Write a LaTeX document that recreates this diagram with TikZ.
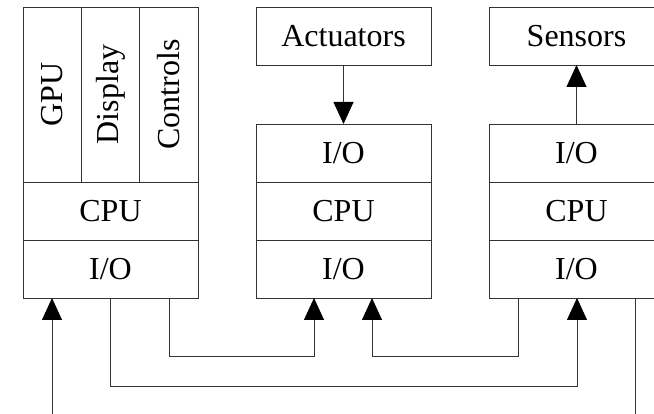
\documentclass[tikz,border=0pt]{standalone}
\usepackage{fontspec}
\setmainfont{Liberation Serif}
\usetikzlibrary{arrows.meta}
\begin{document}
\begin{tikzpicture}[x=1pt,y=-1pt,
 box/.style={draw=black!80, line width=0.9pt, inner sep=0pt, outer sep=0pt, font=\fontsize{32}{36}\selectfont},
 wide/.style={box, minimum width=175pt, minimum height=58pt},
 col/.style={box, minimum width=58.33pt, minimum height=175pt},
 conn/.style={draw=black!80, line width=0.9pt},
 arr/.style={conn, -{Triangle[length=22pt,width=20pt,color=black]}}]
\useasboundingbox (0,0) rectangle (654,414);
\clip (0,0) rectangle (654,414);
% left block
\node[col] (gpu) at (52.17,94.5) {\rotatebox{90}{GPU}};
\node[col] (disp) at (110.5,94.5) {\rotatebox{90}{Display}};
\node[col] (ctrl) at (168.83,94.5) {\rotatebox{90}{Controls}};
\node[wide] (cpu1) at (110.5,211) {CPU};
\node[wide] (io1) at (110.5,269) {I/O};
% middle block
\node[wide] (act) at (343.5,36) {Actuators};
\node[wide] (io2a) at (343.5,153) {I/O};
\node[wide] (cpu2) at (343.5,211) {CPU};
\node[wide] (io2b) at (343.5,269) {I/O};
% right block
\node[wide] (sens) at (576.5,36) {Sensors};
\node[wide] (io3a) at (576.5,153) {I/O};
\node[wide] (cpu3) at (576.5,211) {CPU};
\node[wide] (io3b) at (576.5,269) {I/O};
% top arrows
\draw[arr] (act) -- (io2a);
\draw[arr] (io3a) -- (sens);
% bottom connectors
\coordinate (inL) at (52,414);
\coordinate (outR) at (635,414);
\coordinate (a1) at (110,386); \coordinate (a2) at (577,386);
\coordinate (c1) at (169,356); \coordinate (c2) at (314,356);
\coordinate (d1) at (518,356); \coordinate (d2) at (372,356);
\draw[arr] (inL) -- (inL |- io1.south);
\draw[arr] (io1.south -| a1) -- (a1) -- (a2) -- (a2 |- io3b.south);
\draw[arr] (io1.south -| c1) -- (c1) -- (c2) -- (c2 |- io2b.south);
\draw[arr] (io3b.south -| d1) -- (d1) -- (d2) -- (d2 |- io2b.south);
\draw[conn] (io3b.south -| outR) -- (outR);
\end{tikzpicture}
\end{document}
